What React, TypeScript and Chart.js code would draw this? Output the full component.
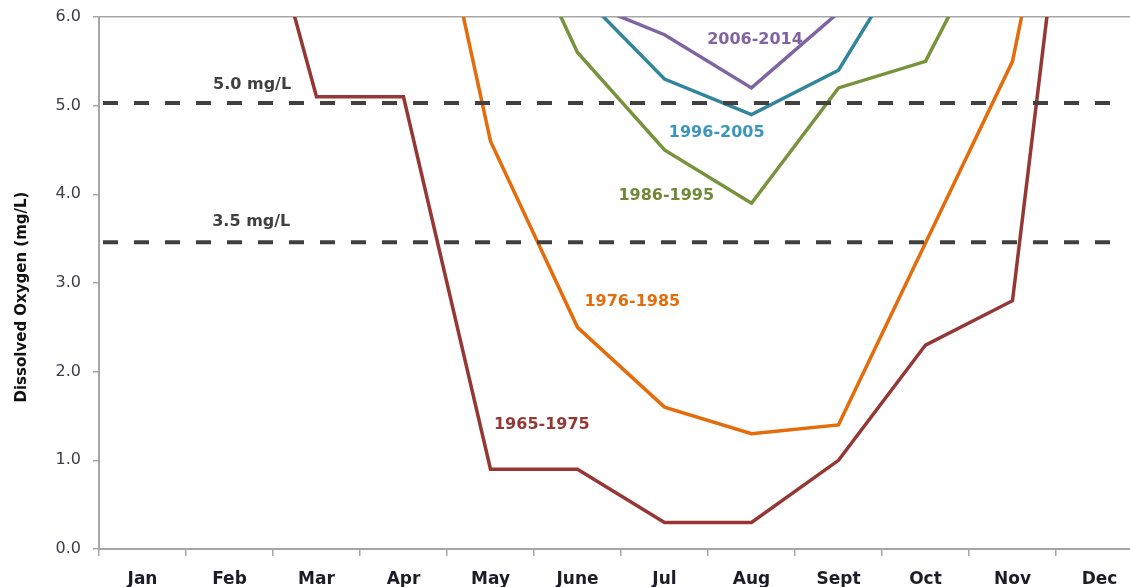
import React, { useEffect, useRef } from "react";
import { Chart, registerables } from "chart.js";

Chart.register(...registerables);

const months = ["Jan", "Feb", "Mar", "Apr", "May", "June", "Jul", "Aug", "Sept", "Oct", "Nov", "Dec"];
const yTicks = [0, 1, 2, 3, 4, 5, 6];

const series1965 = [null, 8.7, 5.1, 5.1, 0.9, 0.9, 0.3, 0.3, 1.0, 2.3, 2.8, 10.9];
const series1976 = [null, null, null, 9.1, 4.6, 2.5, 1.6, 1.3, 1.4, 3.45, 5.5, 10.3];
const series1986 = [null, null, null, null, 7.7, 5.6, 4.5, 3.9, 5.2, 5.5, 7.4, null];
const series1996 = [null, null, null, null, null, 6.3, 5.3, 4.9, 5.4, 7.0, null, null];
const series2006 = [null, null, null, null, null, 6.2, 5.8, 5.2, 6.05, null, null, null];

const seriesNames = ["1965-1975", "1976-1985", "1986-1995", "1996-2005", "2006-2014"];
const thresholdValues = [5.03, 3.46];
const thresholdNames = ["5.0 mg/L", "3.5 mg/L"];

const lineColors = ["#953735", "#E46C0A", "#77933C", "#31859C", "#8064A2"];
const textColors = ["#953735", "#E46C0A", "#6F8A37", "#3D95BC", "#8064A2"];

// label anchor positions (category index, value)
const seriesLabelPos = [
  [4.59, 1.4],
  [5.63, 2.79],
  [6.02, 3.98],
  [6.6, 4.69],
  [7.04, 5.74],
];
const thresholdLabelPos = [
  [1.26, 5.24],
  [1.25, 3.69],
];

const FONT = "'DejaVu Sans', sans-serif";

const overlayPlugin = {
  id: "overlay",
  afterDatasetsDraw(chart: any) {
    const { ctx, chartArea, scales } = chart;
    const x = scales.x;
    const y = scales.y;
    ctx.save();
    // threshold dashed lines
    ctx.strokeStyle = "#404040";
    ctx.lineWidth = 4;
    ctx.setLineDash([15, 16]);
    thresholdValues.forEach((v) => {
      const py = y.getPixelForValue(v);
      ctx.beginPath();
      ctx.moveTo(chartArea.left + 4, py);
      ctx.lineTo(chartArea.right - 23, py);
      ctx.stroke();
    });
    ctx.setLineDash([]);
    ctx.textAlign = "center";
    ctx.textBaseline = "middle";
    ctx.font = `bold 16px ${FONT}`;
    ctx.fillStyle = "#404040";
    thresholdNames.forEach((t, i) => {
      const [xi, v] = thresholdLabelPos[i];
      ctx.fillText(t, x.getPixelForValue(xi), y.getPixelForValue(v));
    });
    seriesNames.forEach((t, i) => {
      const [xi, v] = seriesLabelPos[i];
      ctx.fillStyle = textColors[i];
      ctx.fillText(t, x.getPixelForValue(xi), y.getPixelForValue(v));
    });
    // y-axis title
    ctx.translate(22, 297);
    ctx.rotate(-Math.PI / 2);
    ctx.fillStyle = "#111111";
    ctx.font = `bold 15px ${FONT}`;
    ctx.fillText("Dissolved Oxygen (mg/L)", 0, 0);
    ctx.restore();
  },
};

export default function App() {
  const ref = useRef<HTMLCanvasElement>(null);
  useEffect(() => {
    if (!ref.current) return;
    const all = [series1965, series1976, series1986, series1996, series2006];
    const chart = new Chart(ref.current, {
      type: "line",
      data: {
        labels: months,
        datasets: all.map((d, i) => ({
          label: seriesNames[i],
          data: d,
          borderColor: lineColors[i],
          backgroundColor: lineColors[i],
          borderWidth: 3.5,
          pointRadius: 0,
          tension: 0,
          clip: 0,
          spanGaps: false,
        })),
      },
      options: {
        responsive: false,
        animation: false,
        devicePixelRatio: 1,
        layout: { padding: { left: 0, right: 0, top: 17, bottom: 0 } },
        plugins: { legend: { display: false }, tooltip: { enabled: false }, title: { display: false } },
        scales: {
          x: {
            type: "category",
            offset: true,
            afterFit: (s: any) => {
              s.height = 51;
              s.paddingLeft = 0;
              s.paddingRight = 0;
            },
            grid: {
              offset: true,
              drawOnChartArea: false,
              drawTicks: true,
              tickLength: 7,
              color: "#a6a6a6",
              lineWidth: 1.5,
            },
            border: { color: "#a6a6a6", width: 2 },
            ticks: {
              padding: 13,
              color: "#1c1c2a",
              font: { family: FONT, size: 17, weight: "bold" },
              maxRotation: 0,
              autoSkip: false,
            },
          },
          y: {
            min: 0,
            max: 6,
            afterFit: (s: any) => {
              s.width = 99;
              s.paddingTop = 0;
              s.paddingBottom = 0;
            },
            afterBuildTicks: (s: any) => {
              s.ticks = yTicks.map((v) => ({ value: v }));
            },
            grid: {
              drawTicks: true,
              tickLength: 6,
              color: (c: any) => (c.tick && c.tick.value === 6 ? "#a6a6a6" : "rgba(0,0,0,0)"),
              tickColor: "#a6a6a6",
              lineWidth: 1.5,
            },
            border: { color: "#a6a6a6", width: 2 },
            ticks: {
              padding: 12,
              color: "#3c3c4a",
              font: { family: FONT, size: 16 },
              callback: (v: any) => Number(v).toFixed(1),
            },
          },
        },
      },
      plugins: [overlayPlugin],
    });
    return () => chart.destroy();
  }, []);
  return (
    <div style={{ position: "fixed", left: 0, top: 0, width: 1143, height: 600, background: "#fff" }}>
      <canvas ref={ref} width={1143} height={600} />
    </div>
  );
}
